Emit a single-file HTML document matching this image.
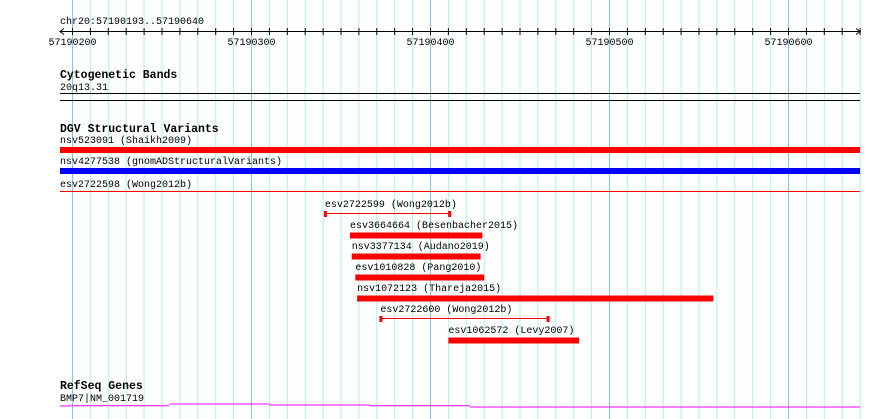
<!DOCTYPE html>
<html><head><meta charset="utf-8"><style>
html,body{margin:0;padding:0;background:#fff;}
svg{display:block;font-family:"Liberation Mono",monospace;}
</style></head><body>
<svg id="c" width="890" height="419" xmlns="http://www.w3.org/2000/svg"></svg>
<script>
const startBp = 57190193, endBp = 57190640;
const tickLabels = [57190200, 57190300, 57190400, 57190500, 57190600];
const featNames = ["esv2722599 (Wong2012b)","esv3664664 (Besenbacher2015)","nsv3377134 (Audano2019)","esv1010828 (Pang2010)","nsv1072123 (Thareja2015)","esv2722600 (Wong2012b)","esv1062572 (Levy2007)"];
const featStarts = [57190341, 57190355, 57190356, 57190358, 57190359, 57190172+200, 57190410];
const featEnds = [57190411, 57190429, 57190428, 57190430, 57190359+199, 57190466, 57190483];
const featThin = [true,false,false,false,false,true,false];
const geneSegStarts = [57190193, 57190198, 57190254, 57190310, 57190366, 57190422];
const geneSegEnds = [57190198, 57190254, 57190310, 57190366, 57190422, 57190640];
const geneSegLevel = [2, 1.7, 0, 1, 1.7, 3];

const NS="http://www.w3.org/2000/svg";
const svg=document.getElementById('c');
const X0=72.5, PX=1.79;
function x(bp){return X0+(bp-57190200)*PX;}
const L=x(startBp), R=x(endBp);
function mk(t,a,txt){const e=document.createElementNS(NS,t);for(const k in a)e.setAttribute(k,a[k]);if(txt!==undefined)e.textContent=txt;svg.appendChild(e);return e;}

// grid
for(let bp=57190200;bp<=endBp;bp+=10){
  const g=mk('line',{x1:x(bp),x2:x(bp),y1:0,y2:419,stroke:(bp%100===0)?'#7ec8e8':'#b0eef2','stroke-width':1});
  
  
}
// ruler
let t=mk('text',{x:L,y:24,'font-size':10,fill:'#000'},'chr20:57190193..57190640');

let ax=mk('line',{x1:L,x2:R,y1:31.5,y2:31.5,stroke:'#000'});

mk('path',{d:`M${L+4} 28.5 L${L} 31.5 L${L+4} 34.5 M${R-4} 28.5 L${R} 31.5 L${R-4} 34.5`,stroke:'#000',fill:'none'});
for(let bp=57190200;bp<=endBp;bp+=10){
  const tk=mk('line',{x1:x(bp),x2:x(bp),y1:28,y2:35,stroke:'#000'});
  
  
}
tickLabels.forEach(v=>{
  const e=mk('text',{x:x(v),y:45,'font-size':10,'text-anchor':'middle'},String(v));
  
  
});
// cytogenetic
t=mk('text',{x:L,y:78,'font-size':11.5,'font-weight':'bold'},'Cytogenetic Bands');

t=mk('text',{x:L,y:90,'font-size':10},'20q13.31');

mk('line',{x1:L,x2:R,y1:93.5,y2:93.5,stroke:'#000'});
mk('line',{x1:L,x2:R,y1:100.5,y2:100.5,stroke:'#000'});
// DGV
t=mk('text',{x:L,y:132,'font-size':11.5,'font-weight':'bold'},'DGV Structural Variants');

const full=[["nsv523091 (Shaikh2009)",'#ff0000',147,6],["nsv4277538 (gnomADStructuralVariants)",'#0000ff',168,6],["esv2722598 (Wong2012b)",'#ff0000',191,1]];
full.forEach(f=>{
  const lb=mk('text',{x:L,y:f[2]-4,'font-size':10},f[0]);
  
  const r=mk('rect',{x:L,y:f[2],width:R-L,height:f[3],fill:f[1]});
  
});
featNames.forEach((n,i)=>{
  const y=211+i*21;
  const x1=x(featStarts[i]),x2=x(featEnds[i]);
  const lb=mk('text',{x:x1,y:y-4,'font-size':10},n);
  
  if(featThin[i]){
    const g=mk('path',{d:`M${x1} ${y+2.5}H${x2}`,stroke:'#ff0000','stroke-width':1});
    
    mk('rect',{x:x1-1,y:y,width:3,height:6,fill:'#ff0000'});
    mk('rect',{x:x2-2,y:y,width:3,height:6,fill:'#ff0000'});
  } else {
    const r=mk('rect',{x:x1,y:y+0.5,width:x2-x1,height:6,fill:'#ff0000'});
    
  }
});
// RefSeq
t=mk('text',{x:L,y:389,'font-size':11.5,'font-weight':'bold'},'RefSeq Genes');

t=mk('text',{x:L,y:401,'font-size':10},'BMP7|NM_001719');

geneSegStarts.forEach((s,i)=>{
  const y=404+geneSegLevel[i];
  const g=mk('line',{x1:x(s),x2:x(geneSegEnds[i]),y1:y,y2:y,stroke:'#ff00ff','stroke-width':1});
  
  
});
</script>
</body></html>
